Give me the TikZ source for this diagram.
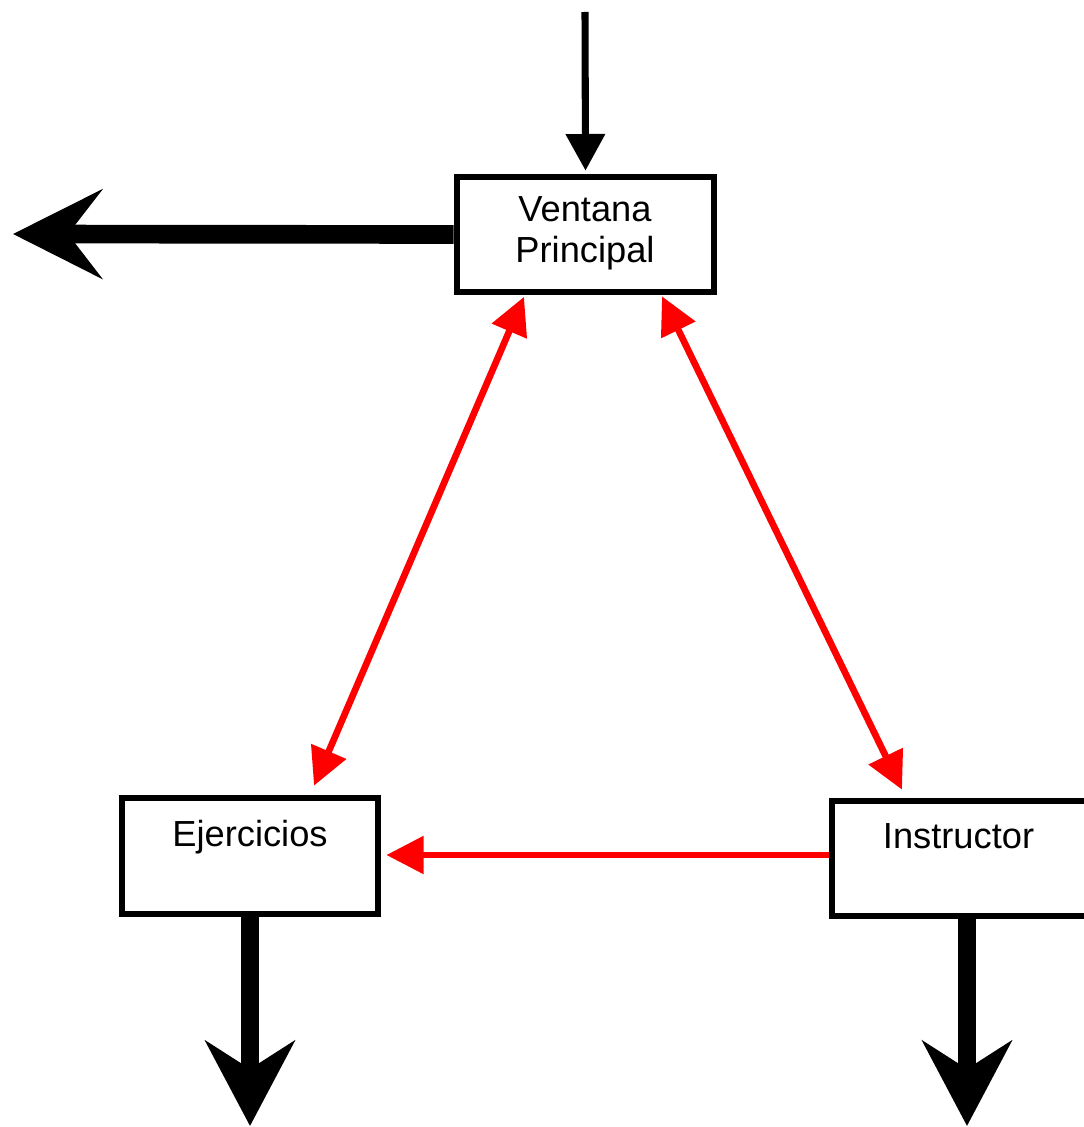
\documentclass[tikz,border=0pt]{standalone}
\usepackage{fontspec}
\setmainfont{Liberation Sans}
\usetikzlibrary{arrows.meta,calc}
\begin{document}
\begin{tikzpicture}[x=0.75pt,y=-0.75pt,
  box/.style={draw=black,line width=5pt,fill=white,inner sep=0pt},
  lbl/.style={font=\fontsize{27.2}{31}\selectfont,inner sep=0pt,align=center},
  thin arrow/.style={draw=black,line width=5.3pt,-{Triangle[length=27.5pt,width=28.5pt]}},
  heavy arrow/.style={draw=black,line width=14pt},
  link/.style={draw=red,line width=5pt,
    {Triangle[length=28pt,width=27.5pt]}-{Triangle[length=28pt,width=27.5pt]}},
  oneway/.style={draw=red,line width=5pt,-{Triangle[length=28pt,width=27.5pt]}}]
\useasboundingbox (0,0) rectangle (1084,1127);

% windows
\node[box,minimum width=192.75pt,minimum height=86.25pt] (vp) at (585.5,234.5) {};
\node[lbl] (vpt) at (585,233) {Ventana\\Principal};
\node[box,minimum width=192pt,minimum height=87pt] (ej) at (250,856) {};
\node[lbl,anchor=base] (ejt) at ($(ej.center)+(0,-10)$) {Ejercicios};
\node[box,minimum width=195pt,minimum height=86.25pt] (in) at (962,858.5) {};
\node[lbl,anchor=base] (int) at ($(in.center)+(-3.5,-10.5)$) {Instructor};

% entry and exits
\coordinate (entry) at (585,12);
\coordinate (exitL) at (13,234);
\coordinate (exitE) at (250,1126);
\coordinate (exitI) at (967,1126);
\draw[thin arrow] (entry) -- ($(vp.north)+(0,-3)$);
\draw[heavy arrow,-{Stealth[length=66.75pt,width=66.75pt,inset=25.5pt]}]
  ($(vp.west)+(0,0)$) -- (exitL);
\draw[heavy arrow,-{Stealth[length=63.75pt,width=66.75pt,inset=21pt]}]
  (ej.south) -- (exitE);
\draw[heavy arrow,-{Stealth[length=63.75pt,width=66.75pt,inset=21pt]}]
  ($(in.south)+(5,0)$) -- (exitI);

% links between windows
\draw[link] ($(vp.south)+(-61.5,1.5)$) -- ($(ej.north)+(64,-9)$);
\draw[link] ($(vp.south)+(76.5,1)$) -- ($(in.north)+(-60,-8)$);
\draw[oneway] ($(in.west)+(0,-3.5)$) -- ($(ej.east)+(5,-1)$);
\end{tikzpicture}
\end{document}
